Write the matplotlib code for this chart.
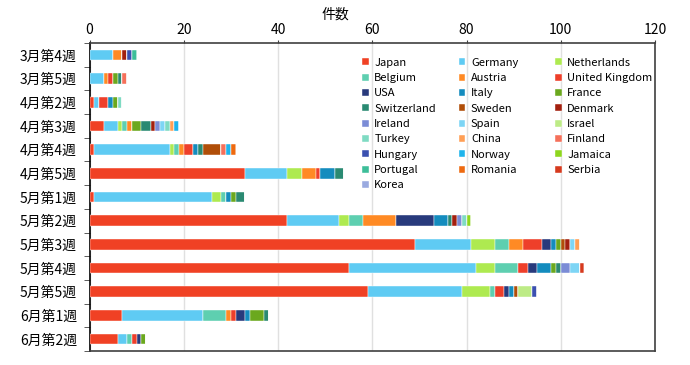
import matplotlib
matplotlib.use("Agg")
import matplotlib.pyplot as plt
import numpy as np

plt.rcParams['font.family'] = ['Noto Sans CJK JP', 'DejaVu Sans']

weeks = ["3月第4週", "3月第5週", "4月第2週", "4月第3週", "4月第4週", "4月第5週",
         "5月第1週", "5月第2週", "5月第3週", "5月第4週", "5月第5週", "6月第1週", "6月第2週"]

countries = ["Japan", "Germany", "Netherlands", "Belgium", "Austria", "United Kingdom",
             "USA", "Italy", "France", "Switzerland", "Sweden", "Denmark",
             "Ireland", "Spain", "Israel", "Turkey", "China", "Finland",
             "Hungary", "Norway", "Jamaica", "Portugal", "Romania", "Serbia", "Korea"]

colors = ["#F04124", "#5FCBF3", "#AEEA50", "#5ECFB0", "#FF8A24", "#EE3F2A",
          "#283A7C", "#148CBE", "#6BA81E", "#2A8A72", "#B04E08", "#A3200F",
          "#7B8CD6", "#7DD5F5", "#BDEB86", "#7FDBC3", "#FF9F55", "#F5705A",
          "#3B50B0", "#1EB4EC", "#8ED61E", "#3DBE99", "#EE6A10", "#D63A1E", "#9AAAE0"]

# counts per week, one list per country (same order as weeks)
japan       = [0, 0, 1, 3, 1, 33, 1, 42, 69, 55, 59, 7, 6]
germany     = [5, 3, 1, 3, 16, 9, 25, 11, 12, 27, 20, 17, 2]
netherlands = [0, 0, 0, 1, 1, 3, 2, 2, 5, 4, 6, 0, 0]
belgium     = [0, 0, 0, 1, 1, 0, 1, 3, 3, 5, 1, 5, 1]
austria     = [2, 1, 0, 1, 1, 3, 0, 7, 3, 0, 0, 1, 0]
uk          = [0, 1, 2, 0, 2, 1, 0, 0, 4, 2, 2, 1, 1]
usa         = [0, 0, 0, 0, 0, 0, 0, 8, 2, 2, 1, 2, 1]
italy       = [0, 0, 1, 0, 1, 3, 1, 3, 1, 3, 1, 1, 0]
france      = [0, 1, 1, 2, 0, 0, 1, 0, 1, 1, 0, 3, 1]
switzerland = [0, 1, 0, 2, 1, 2, 2, 1, 0, 1, 0, 1, 0]
sweden      = [0, 0, 0, 0, 4, 0, 0, 0, 1, 0, 1, 0, 0]
denmark     = [1, 0, 0, 1, 0, 0, 0, 1, 1, 0, 0, 0, 0]
ireland     = [0, 0, 0, 1, 0, 0, 0, 1, 0, 2, 0, 0, 0]
spain       = [0, 0, 0, 1, 0, 0, 0, 0, 1, 2, 0, 0, 0]
israel      = [0, 0, 0, 0, 0, 0, 0, 0, 0, 0, 3, 0, 0]
turkey      = [0, 0, 1, 1, 0, 0, 0, 1, 0, 0, 0, 0, 0]
china       = [0, 0, 0, 1, 0, 0, 0, 0, 1, 0, 0, 0, 0]
finland     = [0, 1, 0, 0, 1, 0, 0, 0, 0, 0, 0, 0, 0]
hungary     = [1, 0, 0, 0, 0, 0, 0, 0, 0, 0, 1, 0, 0]
norway      = [0, 0, 0, 1, 1, 0, 0, 0, 0, 0, 0, 0, 0]
jamaica     = [0, 0, 0, 0, 0, 0, 0, 1, 0, 0, 0, 0, 0]
portugal    = [1, 0, 0, 0, 0, 0, 0, 0, 0, 0, 0, 0, 0]
romania     = [0, 0, 0, 0, 1, 0, 0, 0, 0, 0, 0, 0, 0]
serbia      = [0, 0, 0, 0, 0, 0, 0, 0, 0, 1, 0, 0, 0]
korea       = [0, 0, 0, 0, 0, 0, 0, 0, 0, 0, 0, 0, 0]

series = [japan, germany, netherlands, belgium, austria, uk, usa, italy, france,
          switzerland, sweden, denmark, ireland, spain, israel, turkey, china,
          finland, hungary, norway, jamaica, portugal, romania, serbia, korea]

fig = plt.figure(figsize=(6.9, 3.65), dpi=100)
ax = fig.add_axes([89.5/690, 1 - 351/365, (655 - 89.5)/690, (351 - 43)/365])

y = np.arange(len(weeks))
left = np.zeros(len(weeks))
for name, vals, c in zip(countries, series, colors):
    vals = np.array(vals, dtype=float)
    ax.barh(y, vals, left=left, height=0.45, color=c, label=name,
            edgecolor="white", linewidth=0.3, zorder=3)
    left += vals

ax.set_xlim(0, 120)
ax.set_ylim(len(weeks) - 0.5, -0.5)
ax.set_xticks(np.arange(0, 121, 20))
ax.xaxis.tick_top()
ax.tick_params(axis='x', length=2, labelsize=10, pad=2, color="#404040")
ax.set_yticks(y)
ax.set_yticklabels(weeks, fontsize=10)
ax.set_yticks(np.arange(-0.5, len(weeks), 1), minor=True)
ax.tick_params(axis='y', which='major', length=0, pad=9)
ax.tick_params(axis='y', which='minor', length=4, color="#404040")
ax.grid(axis='x', color="#e0e0e0", linewidth=1, zorder=0)
for s in ax.spines.values():
    s.set_color("#404040")
    s.set_linewidth(1.2)
ax.spines['left'].set_color("black")

fig.text(335/690, 1 - 15/365, "件数", ha='center', va='center', fontsize=10)

# legend reads row by row, columns have a fixed width -> one legend per column
handles, labels = ax.get_legend_handles_labels()
col_x = [0.482, 0.653, 0.823]
for c in range(3):
    idx = list(range(c, len(handles), 3))
    leg = ax.legend([handles[i] for i in idx], [labels[i] for i in idx],
                    loc='upper left', bbox_to_anchor=(col_x[c], 0.952), frameon=False,
                    fontsize=8, handlelength=0.6, handleheight=0.6, handletextpad=0.5,
                    labelspacing=0.48, borderaxespad=0, borderpad=0)
    if c < 2:
        ax.add_artist(leg)

fig.savefig("out.png", dpi=100)
